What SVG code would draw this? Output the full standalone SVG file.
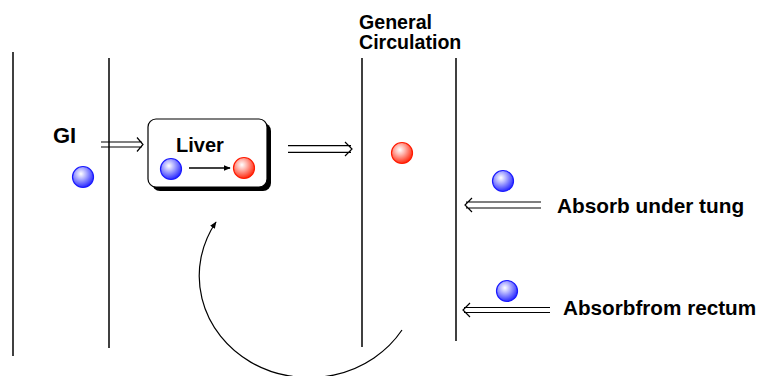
<svg xmlns="http://www.w3.org/2000/svg" width="759" height="376" viewBox="0 0 759 376">
<defs>
<radialGradient id="gb" cx="0.4" cy="0.35" r="0.65">
<stop offset="0" stop-color="#ffffff"/>
<stop offset="0.35" stop-color="#b8b8ff"/>
<stop offset="1" stop-color="#2a2aff"/>
</radialGradient>
<radialGradient id="gr" cx="0.4" cy="0.35" r="0.65">
<stop offset="0" stop-color="#ffffff"/>
<stop offset="0.35" stop-color="#ffb8b0"/>
<stop offset="1" stop-color="#ff2a10"/>
</radialGradient>
<marker id="ah" viewBox="0 0 10 10" refX="9" refY="5" markerWidth="7" markerHeight="7" orient="auto" markerUnits="userSpaceOnUse">
<path d="M0,1 L10,5 L0,9 Z" fill="#000"/>
</marker>
</defs>
<style>
.wall{stroke:#000;stroke-width:1.5;fill:none}
.dbl{stroke:#000;stroke-width:1.2;fill:none}
.t{font-family:"Liberation Sans",Arial,sans-serif;font-weight:bold;fill:#000}
.bb{fill:url(#gb);stroke:#1a1aff;stroke-width:1.2}
.rb{fill:url(#gr);stroke:#ff1a00;stroke-width:1.2}
</style>
<g id="walls">
<line class="wall" x1="13" y1="52" x2="13" y2="356"/>
<line class="wall" x1="109" y1="58" x2="109" y2="348"/>
<line class="wall" x1="362" y1="58" x2="362" y2="347"/>
<line class="wall" x1="456" y1="58" x2="456" y2="341"/>
</g>
<g id="gi">
<text class="t" x="53" y="143" font-size="22">GI</text>
<circle class="bb" cx="83" cy="177" r="10.5"/>
</g>
<g id="liver">
<rect x="152" y="123" width="119" height="68" rx="8" fill="#000"/>
<rect x="148" y="119" width="119" height="68" rx="8" fill="#fff" stroke="#000" stroke-width="1.2"/>
<text class="t" x="200" y="152" font-size="20">
<tspan text-anchor="middle">Liver</tspan></text>
<circle class="bb" cx="171" cy="169" r="10.5"/>
<circle class="rb" cx="244" cy="168" r="10.5"/>
<line x1="189" y1="168" x2="230" y2="168" stroke="#000" stroke-width="1.5" marker-end="url(#ah)"/>
</g>
<g id="circulation">
<text class="t" x="359" y="29" font-size="19.6">General</text>
<text class="t" x="359" y="49" font-size="19.6">Circulation</text>
<circle class="rb" cx="402" cy="153" r="10.5"/>
</g>
<g id="tung">
<circle class="bb" cx="503" cy="181" r="10.5"/>
<text class="t" x="557" y="213" font-size="20.8">Absorb under tung</text>
</g>
<g id="rectum">
<circle class="bb" cx="507" cy="291" r="10.5"/>
<text class="t" x="563" y="315" font-size="20.7">Absorbfrom rectum</text>
</g>
<g id="connectors">
<path class="dbl" d="M101,142 H142 M101,147 H142 M137,137.5 L143,144.5 L137,151.5"/>
<path class="dbl" d="M288,145.7 H351 M288,152.3 H351 M345,142 L352,149 L345,156"/>
<path class="dbl" d="M541,202 H466 M541,208 H466 M472,198 L465,205 L472,212"/>
<path class="dbl" d="M550,307.5 H464 M550,312.5 H464 M470,303 L463,310 L470,317"/>
<path d="M402,330 A108,100 0 1 1 216,222" fill="none" stroke="#000" stroke-width="1.2" marker-end="url(#ah)"/>
</g>
</svg>
